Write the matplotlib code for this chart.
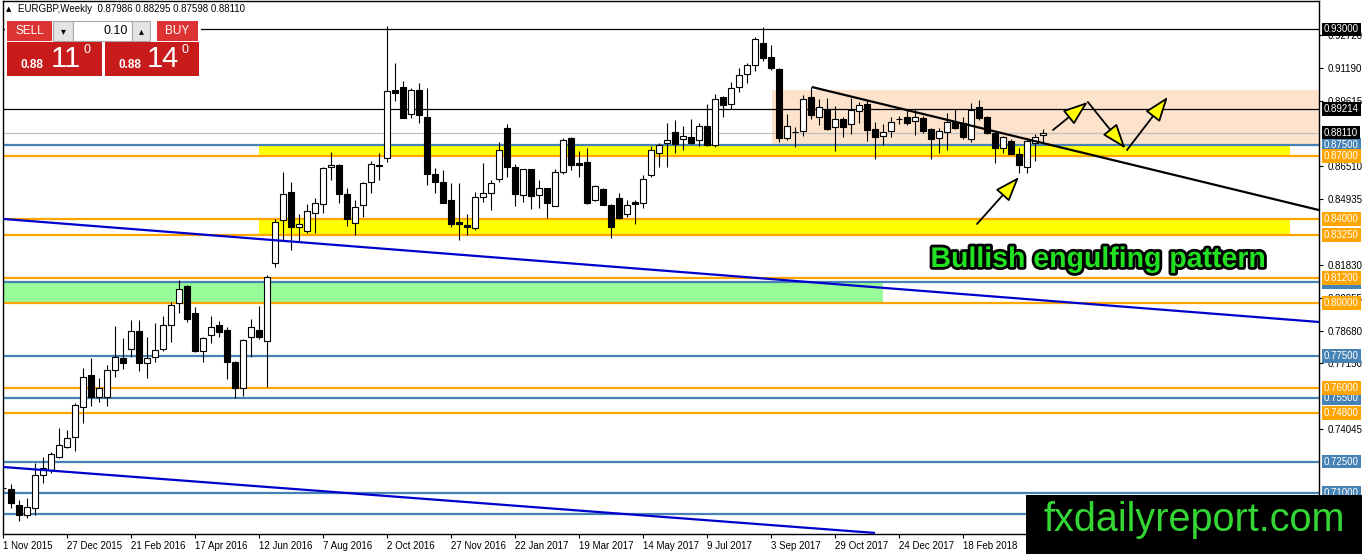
import matplotlib
matplotlib.use('Agg')
import matplotlib.pyplot as plt
import matplotlib.transforms as mtransforms
import matplotlib.patheffects as pe
from matplotlib.patches import Rectangle

plt.rcParams['font.family'] = ['Liberation Sans', 'DejaVu Sans']

# weekly EURGBP candles, 1 Nov 2015 .. 29 Apr 2018
opens = [0.7126, 0.7118, 0.7044, 0.6996, 0.7028, 0.7186, 0.7210, 0.7270, 0.7320, 0.7365,
         0.7507, 0.7661, 0.7555, 0.7558, 0.7684, 0.7743, 0.7783, 0.7869, 0.7719, 0.7747,
         0.7783, 0.7898, 0.8004, 0.8083, 0.7956, 0.7776, 0.7850, 0.7898, 0.7874, 0.7724,
         0.7597, 0.7842, 0.7874, 0.7823, 0.8194, 0.8396, 0.8527, 0.8364, 0.8345, 0.8431,
         0.8471, 0.8645, 0.8657, 0.8519, 0.8383, 0.8467, 0.8575, 0.8652, 0.8689, 0.9013,
         0.9026, 0.8899, 0.9013, 0.8883, 0.8614, 0.8578, 0.8491, 0.8387, 0.8372, 0.8357,
         0.8507, 0.8526, 0.8589, 0.8831, 0.8649, 0.8515, 0.8637, 0.8515, 0.8547, 0.8463,
         0.8625, 0.8784, 0.8665, 0.8673, 0.8491, 0.8542, 0.8467, 0.8499, 0.8425, 0.8483,
         0.8478, 0.8610, 0.8715, 0.8760, 0.8815, 0.8779, 0.8791, 0.8776, 0.8842, 0.8752,
         0.8978, 0.8947, 0.9029, 0.9089, 0.9132, 0.9235, 0.9168, 0.9111, 0.8784, 0.8815,
         0.8820, 0.8978, 0.8883, 0.8918, 0.8836, 0.8874, 0.8852, 0.8915, 0.8947, 0.8826,
         0.8795, 0.8820, 0.8877, 0.8883, 0.8864, 0.8879, 0.8826, 0.8785, 0.8815, 0.8863,
         0.8855, 0.8779, 0.8931, 0.8883, 0.8810, 0.8736, 0.8771, 0.8709, 0.8649, 0.8763,
         0.87986]
highs = [0.7186, 0.7143, 0.7067, 0.7077, 0.7243, 0.7273, 0.7297, 0.7408, 0.7400, 0.7526,
         0.7692, 0.7743, 0.7645, 0.7708, 0.7893, 0.7835, 0.7922, 0.7922, 0.7842, 0.7906,
         0.7941, 0.8008, 0.8111, 0.8088, 0.7985, 0.7842, 0.7941, 0.7918, 0.7887, 0.7726,
         0.7829, 0.7925, 0.7988, 0.8135, 0.8399, 0.8622, 0.8575, 0.8425, 0.8472, 0.8499,
         0.8649, 0.8720, 0.8660, 0.8546, 0.8491, 0.8578, 0.8677, 0.8715, 0.9317, 0.9142,
         0.9056, 0.9021, 0.9048, 0.9021, 0.8641, 0.8633, 0.8573, 0.8570, 0.8423, 0.8530,
         0.8665, 0.8586, 0.8768, 0.8852, 0.8662, 0.8640, 0.8640, 0.8586, 0.8550, 0.8640,
         0.8784, 0.8790, 0.8725, 0.8736, 0.8562, 0.8547, 0.8470, 0.8526, 0.8491, 0.8491,
         0.8610, 0.8747, 0.8763, 0.8855, 0.8871, 0.8842, 0.8874, 0.8855, 0.8947, 0.8994,
         0.8984, 0.9049, 0.9116, 0.9142, 0.9266, 0.9310, 0.9226, 0.9116, 0.8899, 0.8839,
         0.8989, 0.9029, 0.8969, 0.8974, 0.8937, 0.8883, 0.8974, 0.8957, 0.8966, 0.8863,
         0.8852, 0.8886, 0.8890, 0.8918, 0.8921, 0.8890, 0.8831, 0.8831, 0.8905, 0.8921,
         0.8883, 0.8950, 0.8966, 0.8890, 0.8820, 0.8795, 0.8779, 0.8736, 0.8784, 0.8804,
         0.88295]
lows = [0.7030, 0.7030, 0.6969, 0.6982, 0.6996, 0.7150, 0.7197, 0.7265, 0.7313, 0.7301,
        0.7431, 0.7514, 0.7534, 0.7514, 0.7653, 0.7688, 0.7747, 0.7681, 0.7645, 0.7724,
        0.7776, 0.7819, 0.7953, 0.7914, 0.7771, 0.7724, 0.7811, 0.7839, 0.7640, 0.7553,
        0.7561, 0.7747, 0.7831, 0.7602, 0.8175, 0.8301, 0.8254, 0.8293, 0.8333, 0.8336,
        0.8428, 0.8586, 0.8478, 0.8368, 0.8325, 0.8412, 0.8526, 0.8586, 0.8673, 0.8962,
        0.8879, 0.8879, 0.8855, 0.8562, 0.8523, 0.8475, 0.8361, 0.8301, 0.8325, 0.8349,
        0.8483, 0.8444, 0.8578, 0.8602, 0.8464, 0.8483, 0.8448, 0.8452, 0.8404, 0.8460,
        0.8615, 0.8634, 0.8599, 0.8470, 0.8488, 0.8465, 0.8309, 0.8399, 0.8412, 0.8377,
        0.8452, 0.8600, 0.8649, 0.8646, 0.8713, 0.8728, 0.8757, 0.8747, 0.8747, 0.8741,
        0.8886, 0.8921, 0.9005, 0.9048, 0.9105, 0.9152, 0.9108, 0.8768, 0.8776, 0.8741,
        0.8795, 0.8874, 0.8847, 0.8823, 0.8725, 0.8789, 0.8804, 0.8855, 0.8772, 0.8684,
        0.8752, 0.8789, 0.8852, 0.8845, 0.8799, 0.8810, 0.8684, 0.8713, 0.8728, 0.8826,
        0.8779, 0.8768, 0.8871, 0.8804, 0.8665, 0.8713, 0.8707, 0.8621, 0.8618, 0.8677,
        0.87598]
closes = [0.7124, 0.7055, 0.6996, 0.7033, 0.7186, 0.7218, 0.7286, 0.7328, 0.7360, 0.7518,
          0.7653, 0.7558, 0.7597, 0.7684, 0.7747, 0.7716, 0.7869, 0.7719, 0.7740, 0.7779,
          0.7898, 0.7993, 0.8067, 0.7925, 0.7776, 0.7835, 0.7890, 0.7863, 0.7721, 0.7600,
          0.7827, 0.7887, 0.7842, 0.8127, 0.8388, 0.8519, 0.8361, 0.8377, 0.8440, 0.8475,
          0.8644, 0.8656, 0.8519, 0.8399, 0.8459, 0.8570, 0.8662, 0.8657, 0.9010, 0.9000,
          0.8882, 0.9013, 0.8894, 0.8613, 0.8578, 0.8478, 0.8377, 0.8377, 0.8361, 0.8507,
          0.8523, 0.8570, 0.8728, 0.8646, 0.8519, 0.8637, 0.8511, 0.8547, 0.8478, 0.8625,
          0.8776, 0.8657, 0.8657, 0.8478, 0.8557, 0.8467, 0.8364, 0.8404, 0.8467, 0.8471,
          0.8589, 0.8728, 0.8752, 0.8776, 0.8757, 0.8795, 0.8763, 0.8842, 0.8752, 0.8969,
          0.8942, 0.9021, 0.9084, 0.9132, 0.9253, 0.9163, 0.9116, 0.8784, 0.8842, 0.8813,
          0.8969, 0.8894, 0.8931, 0.8826, 0.8874, 0.8839, 0.8918, 0.8942, 0.8823, 0.8789,
          0.8815, 0.8863, 0.8874, 0.8858, 0.8883, 0.8820, 0.8779, 0.8817, 0.8863, 0.8831,
          0.8791, 0.8918, 0.8879, 0.8810, 0.8736, 0.8789, 0.8709, 0.8657, 0.8772, 0.8791,
          0.88110]

date_ticks = [0, 8, 16, 24, 32, 40, 48, 56, 64, 72, 80, 88, 96, 104, 112, 120]
date_labels = ['1 Nov 2015', '27 Dec 2015', '21 Feb 2016', '17 Apr 2016', '12 Jun 2016',
               '7 Aug 2016', '2 Oct 2016', '27 Nov 2016', '22 Jan 2017', '19 Mar 2017',
               '14 May 2017', '9 Jul 2017', '3 Sep 2017', '29 Oct 2017', '24 Dec 2017',
               '18 Feb 2018']

# price scale grid values that are not hidden behind level labels
price_ticks = [0.92720, 0.91190, 0.89615, 0.86510, 0.84935, 0.81830,
               0.80255, 0.78680, 0.77150, 0.74045]

# horizontal levels
orange_levels = [0.87000, 0.84000, 0.83250, 0.81200, 0.80000, 0.76000, 0.74800]
blue_levels = [0.87500, 0.81000, 0.77500, 0.75500, 0.72500, 0.71000, 0.70000]
black_levels = [0.93000, 0.89214]
last_price = 0.88110

# zones: (x0, x1, low, high, colour)
zones = [(32, 160.9, 0.8700, 0.8750, '#FFFF00'),
         (32, 160.9, 0.8325, 0.8400, '#FFFF00'),
         (0, 110, 0.8000, 0.8100, '#98FB98'),
         (96.1, 164.5, 0.8750, 0.9013, '#FDE3CB')]

# trend lines: (x0, p0, x1, p1, colour)
trend_lines = [(0, 0.8401, 164.5, 0.7912, '#0000CD'),
               (0, 0.7224, 109, 0.6911, '#0000CD'),
               (101.1, 0.9027, 164.5, 0.8443, 'black')]

# arrows: (x0, p0, x1, p1)
arrows = [(121.75, 0.8377, 127.0, 0.8600),
          (131.25, 0.8823, 135.6, 0.8956),
          (135.6, 0.8956, 140.3, 0.8735),
          (140.5, 0.8728, 145.6, 0.8980)]

W, H = 1362, 554
fig = plt.figure(figsize=(W / 100, H / 100), dpi=100)
fig.patch.set_facecolor('white')
ax = fig.add_axes([3 / W, 20 / H, 1316 / W, 533 / H])
ax.set_xlim(0, 164.5)
ax.set_ylim(0.6906, 0.9435)

for x0, x1, lo, hi, col in zones:
    ax.add_patch(Rectangle((x0, lo), x1 - x0, hi - lo, facecolor=col, edgecolor='none', zorder=1))

for p in orange_levels:
    ax.axhline(p, color='#FFA500', lw=1.6, zorder=2)
for p in blue_levels:
    ax.axhline(p, color='#4682B4', lw=1.6, zorder=2)
for p in black_levels:
    ax.axhline(p, color='black', lw=0.9, zorder=2)
ax.axhline(last_price, color='#C0C0C0', lw=0.9, zorder=2)

# candles
idx = list(range(len(opens)))
ax.vlines(idx, lows, highs, color='black', lw=0.8, zorder=3)
bottoms = [min(o, c) for o, c in zip(opens, closes)]
heights = [max(abs(c - o), 0.00005) for o, c in zip(opens, closes)]
fcols = ['white' if c >= o else 'black' for o, c in zip(opens, closes)]
ax.bar(idx, heights, bottom=bottoms, width=0.7, color=fcols, edgecolor='black',
       linewidth=0.8, zorder=4)

for x0, p0, x1, p1, col in trend_lines:
    ax.plot([x0, x1], [p0, p1], color=col, lw=1.6, zorder=5, solid_capstyle='butt')

for x0, p0, x1, p1 in arrows:
    ax.annotate('', xy=(x1, p1), xytext=(x0, p0),
                arrowprops=dict(arrowstyle='-|>,head_length=1.1,head_width=0.4',
                                mutation_scale=14, fc='yellow', ec='black', lw=1.3,
                                shrinkA=0, shrinkB=0), zorder=6)

# axes styling
for s in ax.spines.values():
    s.set_color('black')
    s.set_linewidth(1)
ax.set_xticks(date_ticks)
ax.set_xticklabels(date_labels)
for lbl in ax.get_xticklabels():
    lbl.set_ha('left')
ax.tick_params(axis='x', direction='out', length=3, labelsize=7, pad=2)
ax.yaxis.tick_right()
ax.set_yticks(price_ticks)
ax.set_yticklabels(['%.5f' % p for p in price_ticks])
ax.tick_params(axis='y', direction='out', length=3, labelsize=7, pad=3)

# level labels on the price scale (0.81 first so 0.812 sits over it;
# the 0.70 label is covered by the watermark in the original, so it is left out)
trans = mtransforms.blended_transform_factory(ax.transAxes, ax.transData)
trans = mtransforms.offset_copy(trans, fig=fig, x=5, y=0, units='dots')
labels = ([(p, '#4682B4') for p in blue_levels if p != 0.70]
          + [(p, '#FFA500') for p in orange_levels]
          + [(p, 'black') for p in black_levels] + [(last_price, 'black')])
for p, col in sorted(labels, key=lambda t: 0 if t[0] == 0.81 else 1):
    ax.text(1, p, '%.5f' % p, transform=trans, ha='left', va='center', fontsize=7,
            color='white', clip_on=False, zorder=10,
            bbox=dict(boxstyle='square,pad=0.2', fc=col, ec='none'))

# overlay in pixel coordinates (terminal widgets, captions, watermark)
ov = fig.add_axes([0, 0, 1, 1], zorder=20)
ov.set_xlim(0, W)
ov.set_ylim(H, 0)
ov.axis('off')
ov.patch.set_alpha(0)

ov.text(6, 9, '\u25B2', fontsize=5, va='center', ha='left', family='DejaVu Sans')
ov.text(18, 9, 'EURGBP,Weekly  0.87986 0.88295 0.87598 0.88110', fontsize=7,
        va='center', ha='left')

ov.add_patch(Rectangle((5, 18), 196, 61, fc='white', ec='none'))
ov.add_patch(Rectangle((7, 21), 45, 20, fc='#dd3333', ec='none'))
ov.text(29.5, 31, 'SELL', color='white', fontsize=8.5, ha='center', va='center')
ov.add_patch(Rectangle((53, 21), 20, 20, fc='#e4e4e4', ec='#a8a8a8', lw=0.8))
ov.text(63, 31, '\u25BE', fontsize=7, ha='center', va='center', family='DejaVu Sans')
ov.add_patch(Rectangle((73, 21), 59, 20, fc='white', ec='#a8a8a8', lw=0.8))
ov.text(128, 31, '0.10', fontsize=9, ha='right', va='center')
ov.add_patch(Rectangle((132, 21), 18, 20, fc='#e4e4e4', ec='#a8a8a8', lw=0.8))
ov.text(141, 31, '\u25B4', fontsize=7, ha='center', va='center', family='DejaVu Sans')
ov.add_patch(Rectangle((157, 21), 41, 20, fc='#dd3333', ec='none'))
ov.text(177.5, 31, 'BUY', color='white', fontsize=8.5, ha='center', va='center')
ov.add_patch(Rectangle((7, 42), 95, 34, fc='#c81c1c', ec='none'))
ov.add_patch(Rectangle((105, 42), 94, 34, fc='#c81c1c', ec='none'))
ov.text(32, 65, '0.88', color='white', fontsize=8.5, weight='bold', ha='center', va='center')
ov.text(66, 59, '11', color='white', fontsize=21, ha='center', va='center')
ov.text(87, 50, '0', color='white', fontsize=9, ha='center', va='center')
ov.text(130, 65, '0.88', color='white', fontsize=8.5, weight='bold', ha='center', va='center')
ov.text(163, 59, '14', color='white', fontsize=21, ha='center', va='center')
ov.text(185, 50, '0', color='white', fontsize=9, ha='center', va='center')

ov.text(1098, 267, 'Bullish engulfing pattern', fontsize=20.5, weight='bold',
        color='#22e022', ha='center', va='baseline',
        path_effects=[pe.withStroke(linewidth=4, foreground='black')])

ov.add_patch(Rectangle((1026, 495), W - 1026, H - 495, fc='black', ec='none'))
ov.text(1194, 531, 'fxdailyreport.com', fontsize=28.5, color='#33d633',
        ha='center', va='baseline')

fig.savefig('out.png', dpi=100)
